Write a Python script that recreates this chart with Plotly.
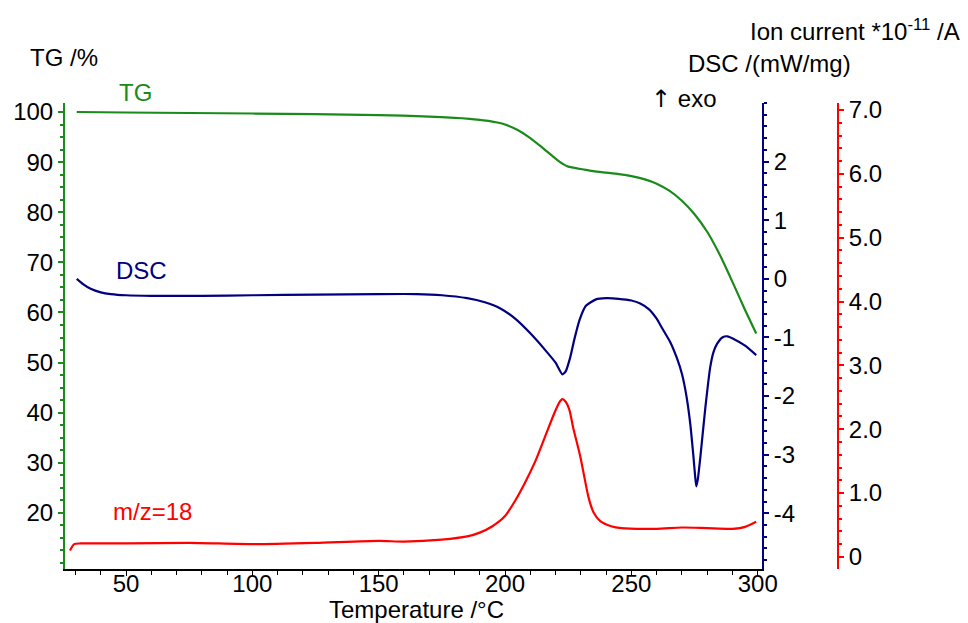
import plotly.graph_objects as go

# ---- data ----
tg_T = [30.5, 50, 100, 150, 170, 180, 186, 190, 194, 197, 200, 205, 210, 215, 220, 223, 225, 227, 229, 232,
        235, 240, 245, 250, 255, 260, 265, 270, 275, 280, 285, 290, 295, 299.4]
tg_v = [100.0, 99.9, 99.7, 99.4, 99.1, 98.85, 98.65, 98.45, 98.2, 97.9, 97.5, 96.4, 94.8, 92.8, 90.7, 89.6, 89.1,
        88.9, 88.7, 88.45, 88.2, 87.9, 87.6, 87.2, 86.6, 85.7, 84.3, 82.3, 79.6, 76.1, 71.5, 66.1, 60.5, 55.8]

dsc_T = [30.5, 33, 36, 40, 44, 50, 60, 80, 100, 125, 150, 165, 175, 185, 192, 198, 204, 210, 216, 220, 222.7,
         224, 225.8, 227.5, 229.5, 232, 236, 240, 245, 250, 253.5, 257, 260, 262, 265.4, 268, 270, 271.8, 273.3,
         274.5, 275.2, 275.7, 276.3, 277.3, 279.3, 281.2, 282.5, 283.9, 286, 288, 290.3, 295, 299.4]
dsc_v = [0.0, -0.09, -0.17, -0.23, -0.26, -0.28, -0.29, -0.29, -0.28, -0.27, -0.26, -0.26, -0.28, -0.33, -0.40,
         -0.50, -0.68, -0.93, -1.22, -1.43, -1.63, -1.58, -1.34, -1.02, -0.70, -0.46, -0.35, -0.33, -0.34, -0.37,
         -0.42, -0.52, -0.68, -0.83, -1.08, -1.35, -1.62, -2.00, -2.47, -3.00, -3.35, -3.54, -3.42, -3.04, -2.19,
         -1.51, -1.25, -1.11, -1.00, -0.98, -1.02, -1.14, -1.30]

ion_T = [27.8, 29.5, 32, 50, 75, 100, 125, 150, 160, 175, 185, 190, 195, 200, 204, 208, 212, 216, 219.5, 221.5,
         222.7, 224, 225.5, 227, 229.8, 233, 235, 237.7, 242, 246, 260, 270, 280, 290, 295, 299.4]
ion_v = [0.10, 0.20, 0.21, 0.21, 0.22, 0.20, 0.22, 0.25, 0.24, 0.27, 0.32, 0.38, 0.48, 0.64, 0.88, 1.17, 1.50,
         1.90, 2.25, 2.42, 2.47, 2.43, 2.30, 2.02, 1.57, 0.94, 0.70, 0.56, 0.48, 0.45, 0.44, 0.46, 0.45, 0.44,
         0.47, 0.55]

x_ticks = [50, 100, 150, 200, 250, 300]
tg_ticks = [20, 30, 40, 50, 60, 70, 80, 90, 100]
dsc_ticks = [-4, -3, -2, -1, 0, 1, 2]
dsc_ticktext = ["-4", "-3", "-2", "-1", "0", "1", "2"]
ion_ticks = [0, 1, 2, 3, 4, 5, 6, 7]
ion_ticktext = ["0", "1.0", "2.0", "3.0", "4.0", "5.0", "6.0", "7.0"]

GREEN = "#1a8a1a"
NAVY = "#000080"
RED = "#ff0000"
FONT = "Liberation Sans, Arial, sans-serif"

fig = go.Figure()
fig.add_trace(go.Scatter(x=tg_T, y=tg_v, mode="lines", line=dict(color=GREEN, width=2.2, shape="spline", smoothing=0.5),
                         yaxis="y", showlegend=False))
fig.add_trace(go.Scatter(x=dsc_T, y=dsc_v, mode="lines", line=dict(color=NAVY, width=2.2, shape="spline", smoothing=0.5),
                         yaxis="y2", showlegend=False))
fig.add_trace(go.Scatter(x=ion_T, y=ion_v, mode="lines", line=dict(color=RED, width=2.2, shape="spline", smoothing=0.6),
                         yaxis="y3", showlegend=False))

W, H = 968, 623
L, R, T, B = 65, 130, 103, 54
pw = W - L - R
ph = H - T - B


def px(x):
    return (x - L) / pw


def py(y):
    return (H - B - y) / ph


tickfont = dict(family=FONT, size=24, color="black")

fig.update_layout(
    width=W, height=H,
    margin=dict(l=L, r=R, t=T, b=B),
    paper_bgcolor="white", plot_bgcolor="white",
    font=dict(family=FONT, size=24, color="black"),
    xaxis=dict(domain=[0, px(762)], range=[25.85, 301.7], showgrid=False, zeroline=False,
               showline=True, linecolor="black", linewidth=1.5,
               tickmode="array", tickvals=x_ticks, ticks="outside", ticklen=5, tickcolor="black",
               tickfont=tickfont, ticklabelstandoff=-13,
               minor=dict(tickmode="linear", tick0=0, dtick=10, ticks="outside", ticklen=4, tickcolor="black")),
    yaxis=dict(range=[8.8, 101.8], showgrid=False, zeroline=False,
               showline=True, linecolor=GREEN, linewidth=2,
               tickmode="array", tickvals=tg_ticks, ticks="outside", ticklen=5, tickcolor=GREEN, tickwidth=1.5,
               tickfont=tickfont,
               minor=dict(tickmode="linear", tick0=0, dtick=2.5, ticks="outside", ticklen=3, tickcolor=GREEN)),
    yaxis2=dict(range=[-4.95, 3.0], overlaying="y", side="right", anchor="x", showgrid=False, zeroline=False,
                showline=True, linecolor=NAVY, linewidth=2,
                tickmode="array", tickvals=dsc_ticks, ticktext=dsc_ticktext, ticks="outside", ticklen=5,
                tickcolor=NAVY, tickwidth=1.5, tickfont=tickfont,
                minor=dict(tickmode="linear", tick0=0, dtick=0.2, ticks="outside", ticklen=3, tickcolor=NAVY)),
    yaxis3=dict(range=[-0.19, 7.11], overlaying="y", side="right", anchor="free", position=1.0,
                showgrid=False, zeroline=False,
                showline=True, linecolor=RED, linewidth=2,
                tickmode="array", tickvals=ion_ticks, ticktext=ion_ticktext, ticks="outside", ticklen=5,
                tickcolor=RED, tickwidth=1.5, tickfont=tickfont,
                minor=dict(tickmode="linear", tick0=0, dtick=0.2, ticks="outside", ticklen=3, tickcolor=RED)),
)

ann = [
    dict(text="TG /%", x=px(64), y=py(57), xanchor="center", color="black"),
    dict(text="TG", x=px(135), y=py(92), xanchor="center", color=GREEN),
    dict(text="DSC", x=px(141.5), y=py(270), xanchor="center", color=NAVY),
    dict(text="m/z=18", x=px(152), y=py(511), xanchor="center", color=RED),
    dict(text="<span style='font-family:DejaVu Sans'>↑</span> exo", x=px(683), y=py(99), xanchor="center",
         color="black"),
    dict(text="DSC /(mW/mg)", x=px(853), y=py(64), xanchor="right", color="black"),
    dict(text="Ion current *10<sup>-11</sup> /A", x=px(962), y=py(30), xanchor="right", color="black"),
    dict(text="Temperature /°C", x=px(416.5), y=py(609), xanchor="center", color="black"),
]
for a in ann:
    fig.add_annotation(text=a["text"], x=a["x"], y=a["y"], xref="paper", yref="paper",
                       xanchor=a["xanchor"], yanchor="middle", showarrow=False,
                       font=dict(family=FONT, size=24, color=a["color"]))

fig.write_html("out.html")
